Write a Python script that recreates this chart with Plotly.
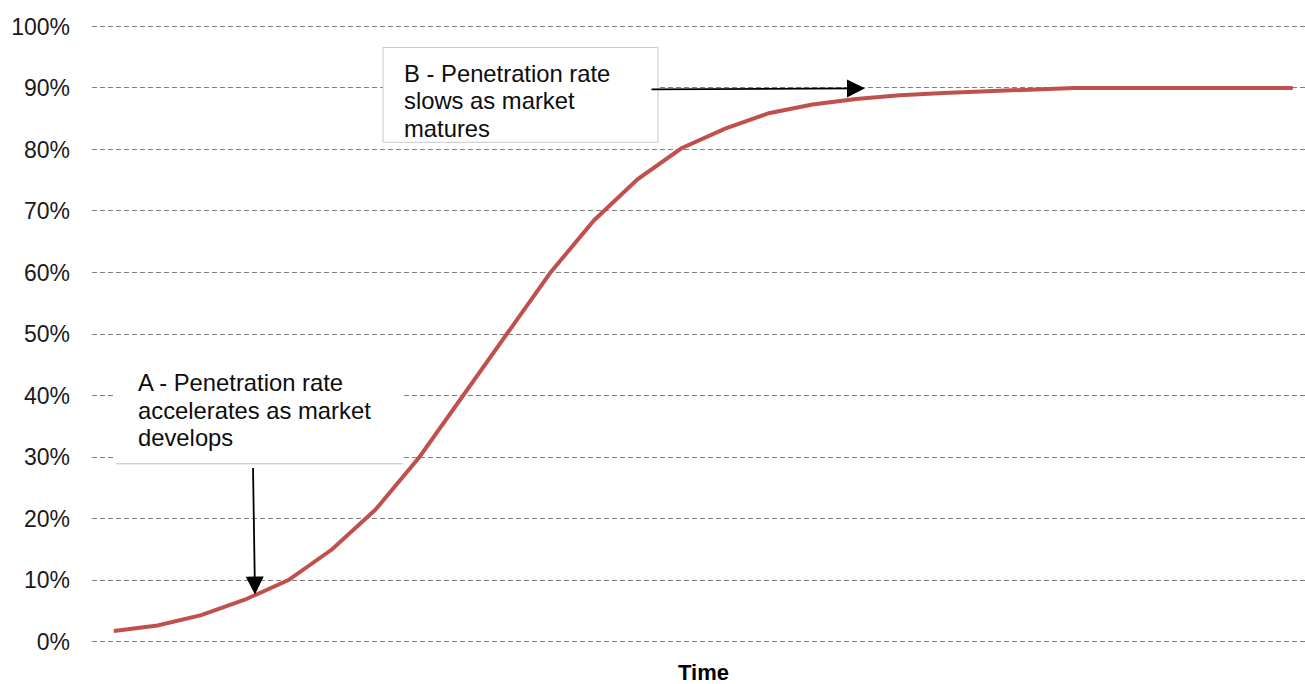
import plotly.graph_objects as go

# Market penetration over time (S-curve)
periods = list(range(1, 29))
penetration = [1.7, 2.6, 4.3, 6.8, 10.0, 15.0, 21.5, 30.0, 40.0, 50.0,
               60.0, 68.5, 75.2, 80.2, 83.4, 85.9, 87.3, 88.2, 88.8, 89.2,
               89.5, 89.7, 90.0, 90.0, 90.0, 90.0, 90.0, 90.0]
y_ticks = [0, 10, 20, 30, 40, 50, 60, 70, 80, 90, 100]
y_tick_labels = [f"{v}%" for v in y_ticks]

label_a = ["A - Penetration rate", "accelerates as market", "develops"]
label_b = ["B - Penetration rate", "slows as market", "matures"]

W, H = 1305, 684
Y0_PX, Y100_PX = 642, 26          # pixel rows of the 0% and 100% gridlines
PAD = 0.4                          # value padding so edge gridlines are kept
UNIT = (Y0_PX - Y100_PX) / 100.0
L, R = 92, 0
T = Y100_PX - PAD * UNIT
B = H - Y0_PX - PAD * UNIT
PW, PH = W - L - R, H - T - B
FONT = "Liberation Sans, Arial, sans-serif"


def px(x):
    return (x - L) / PW


def py(y):
    return (H - B - y) / PH


fig = go.Figure()
fig.add_trace(go.Scatter(
    x=periods, y=penetration, mode="lines",
    line=dict(color="#C0504D", width=4),
    hoverinfo="skip", showlegend=False,
))

shapes = [
    # box behind label A (white fill, bottom rule only)
    dict(type="rect", xref="paper", yref="paper",
         x0=px(116), x1=px(403), y0=py(464), y1=py(362),
         fillcolor="white", line=dict(width=0), layer="above"),
    dict(type="line", xref="paper", yref="paper",
         x0=px(116), x1=px(403), y0=py(464), y1=py(464),
         line=dict(color="#bfbfbf", width=1), layer="above"),
    # box behind label B
    dict(type="rect", xref="paper", yref="paper",
         x0=px(383), x1=px(658), y0=py(142), y1=py(47),
         fillcolor="white", line=dict(color="#c8c8c8", width=1), layer="above"),
]

annotations = []
for i, txt in enumerate(label_a):
    annotations.append(dict(
        xref="paper", yref="paper", x=px(136), y=py(383 + 27.5 * i),
        xanchor="left", yanchor="middle", text=txt, showarrow=False,
        font=dict(family=FONT, size=23.8, color="#0d0d0d")))
for i, txt in enumerate(label_b):
    annotations.append(dict(
        xref="paper", yref="paper", x=px(402), y=py(73 + 27.5 * i),
        xanchor="left", yanchor="middle", text=txt, showarrow=False,
        font=dict(family=FONT, size=23.8, color="#0d0d0d")))

# arrows
annotations.append(dict(
    xref="paper", yref="paper", x=px(255), y=py(595), ax=-2, ay=-128,
    text="", showarrow=True, arrowhead=2, arrowsize=2.0, arrowwidth=1.8,
    arrowcolor="black", standoff=0))
annotations.append(dict(
    xref="paper", yref="paper", x=px(865), y=py(88), ax=-215, ay=1,
    text="", showarrow=True, arrowhead=2, arrowsize=2.0, arrowwidth=1.8,
    arrowcolor="black", standoff=0))

# x-axis title
annotations.append(dict(
    xref="paper", yref="paper", x=px(703), y=py(673),
    xanchor="center", yanchor="middle", text="<b>Time</b>", showarrow=False,
    font=dict(family=FONT, size=22, color="black")))

fig.update_layout(
    width=W, height=H,
    margin=dict(l=L, r=R, t=T, b=B, pad=0),
    paper_bgcolor="white", plot_bgcolor="white",
    font=dict(family=FONT, size=23, color="#1a1a1a"),
    shapes=shapes, annotations=annotations,
    xaxis=dict(range=[0.5, 28.28], showticklabels=False, showgrid=False,
               zeroline=False, showline=False, ticks=""),
    yaxis=dict(range=[-PAD, 100 + PAD], tickvals=y_ticks, ticktext=y_tick_labels,
               showgrid=True, gridcolor="#808080", gridwidth=1,
               griddash="5px,3px", zeroline=False, showline=False,
               ticks="", ticklabelstandoff=21,
               tickfont=dict(family=FONT, size=23, color="#1a1a1a")),
)

fig.write_html("out.html")
